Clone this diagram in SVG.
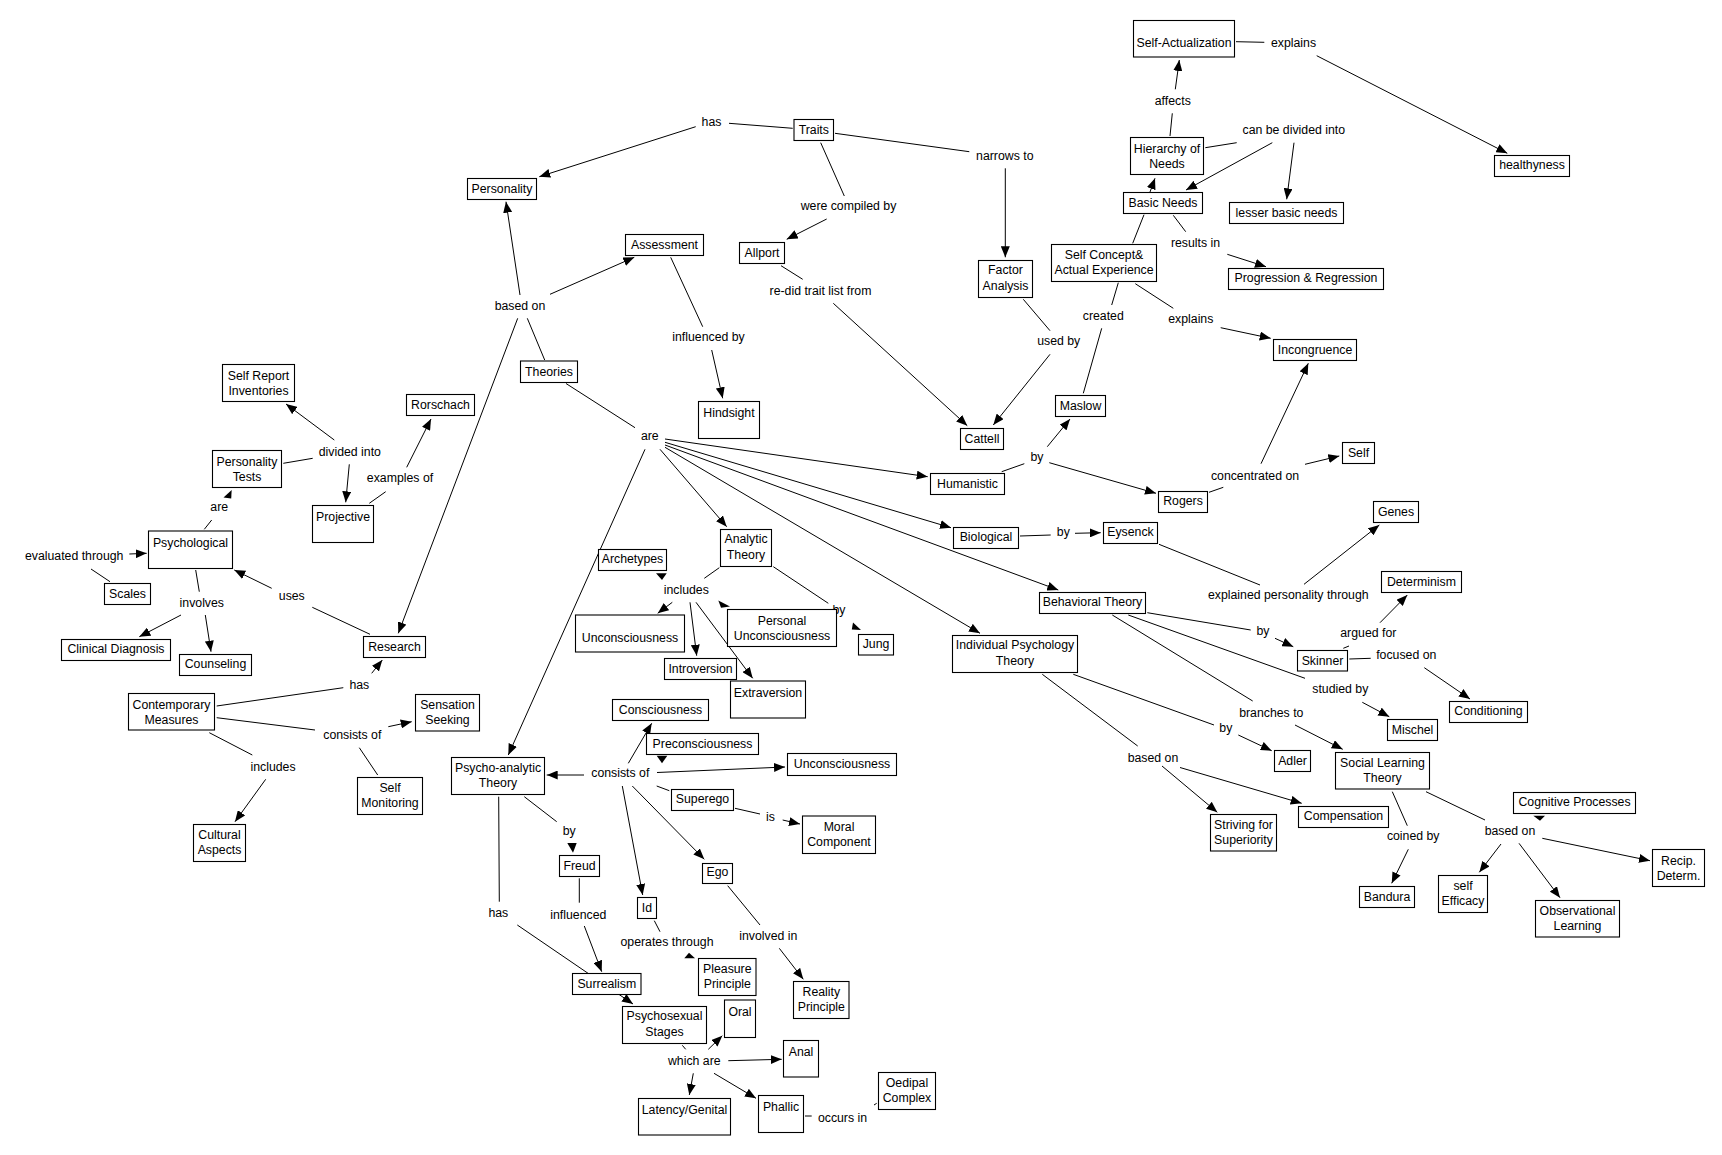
<svg xmlns="http://www.w3.org/2000/svg" width="1722" height="1155" viewBox="0 0 1722 1155">
<defs>
<style>
text{font-family:"Liberation Sans",Arial,sans-serif;font-size:12.3px;fill:#000}
.n text{text-anchor:middle}
.l text{text-anchor:middle}
.n rect{fill:#fff;stroke:#000;stroke-width:1.1}
#connectors line{stroke:#000;stroke-width:1}
#connectors line.a{marker-end:url(#ah)}
#connectors polygon{fill:#000}
</style>
<marker id="ah" viewBox="0 0 11 9" refX="11" refY="4.5" markerWidth="11" markerHeight="9" markerUnits="userSpaceOnUse" orient="auto"><path d="M0,0L11,4.5L0,9z" fill="#000"/></marker>
</defs>
<rect width="1722" height="1155" fill="#fff"/>
<g id="connectors">
<line x1="792.7" y1="128.3" x2="729" y2="123.3"/>
<line class="a" x1="695.7" y1="126.7" x2="539.3" y2="176.7"/>
<line x1="820.7" y1="142.7" x2="844.3" y2="196"/>
<line class="a" x1="826.7" y1="219" x2="786.7" y2="239.3"/>
<line x1="781" y1="265.7" x2="802.7" y2="279.3"/>
<line class="a" x1="833.3" y1="303.3" x2="967.3" y2="425.7"/>
<line x1="835" y1="133.3" x2="969.3" y2="151.7"/>
<line class="a" x1="1005.3" y1="168.3" x2="1005.3" y2="257.3"/>
<line x1="1023.3" y1="299.3" x2="1050" y2="330.7"/>
<line class="a" x1="1050" y1="354.3" x2="993.3" y2="425"/>
<line class="a" x1="520" y1="295" x2="506" y2="201.7"/>
<line class="a" x1="550" y1="294.3" x2="634.3" y2="257.3"/>
<line x1="670.7" y1="257.3" x2="702.7" y2="326.7"/>
<line class="a" x1="711.7" y1="350" x2="722.7" y2="398.3"/>
<line x1="527.3" y1="318.3" x2="544.7" y2="360"/>
<line class="a" x1="517.7" y1="318.3" x2="398.3" y2="633.3"/>
<line x1="566" y1="383.5" x2="635" y2="427.7"/>
<line class="a" x1="665" y1="439" x2="927.7" y2="476.7"/>
<line class="a" x1="665" y1="442.3" x2="951" y2="527.7"/>
<line class="a" x1="665" y1="445" x2="1058.3" y2="590"/>
<line class="a" x1="665" y1="447.3" x2="980" y2="633.3"/>
<line class="a" x1="660" y1="449.3" x2="726.7" y2="526.7"/>
<line class="a" x1="645" y1="449.3" x2="508.3" y2="755"/>
<line x1="1236" y1="41.7" x2="1264.3" y2="42.3"/>
<line class="a" x1="1316.7" y1="55.7" x2="1507.3" y2="153.3"/>
<line x1="1170" y1="136" x2="1172.3" y2="113.3"/>
<line class="a" x1="1175.3" y1="89.3" x2="1179.3" y2="60"/>
<line x1="1205.3" y1="147.7" x2="1236.7" y2="142.7"/>
<line class="a" x1="1272.3" y1="142.7" x2="1186" y2="190"/>
<line class="a" x1="1294" y1="142.7" x2="1286.7" y2="199.3"/>
<line x1="1132.7" y1="243.3" x2="1144" y2="214.7"/>
<line class="a" x1="1150" y1="192" x2="1155" y2="178.3"/>
<line x1="1173.3" y1="215.3" x2="1185.7" y2="231.7"/>
<line class="a" x1="1227.3" y1="254.3" x2="1266" y2="266.7"/>
<line x1="1118.3" y1="282.7" x2="1111.7" y2="305"/>
<line x1="1101.7" y1="328.3" x2="1083.3" y2="393.3"/>
<line x1="1135.3" y1="283.7" x2="1173.3" y2="308.3"/>
<line class="a" x1="1220.7" y1="327.7" x2="1270.7" y2="338.3"/>
<line x1="1001.7" y1="471.7" x2="1024.3" y2="463.7"/>
<line class="a" x1="1047.3" y1="446.7" x2="1070" y2="419"/>
<line class="a" x1="1049.3" y1="462.7" x2="1156" y2="493.3"/>
<line x1="1209" y1="492.3" x2="1223.3" y2="487.3"/>
<line class="a" x1="1261" y1="463.7" x2="1308.3" y2="363.3"/>
<line class="a" x1="1305" y1="464.3" x2="1339.3" y2="456"/>
<line x1="1020" y1="536" x2="1050.7" y2="535"/>
<line class="a" x1="1075" y1="533.3" x2="1100.7" y2="532.7"/>
<line x1="1159" y1="544.3" x2="1260" y2="585"/>
<line class="a" x1="1304" y1="584.3" x2="1379.3" y2="525"/>
<line x1="1147.3" y1="612.7" x2="1250.7" y2="630"/>
<line class="a" x1="1275" y1="638.3" x2="1293.3" y2="646.7"/>
<line x1="1128.3" y1="615" x2="1305" y2="678.3"/>
<line class="a" x1="1362.3" y1="702.3" x2="1389.3" y2="716.7"/>
<line x1="1343.3" y1="648.3" x2="1349" y2="646"/>
<line class="a" x1="1380" y1="622.7" x2="1407.3" y2="595"/>
<line x1="1349.3" y1="659" x2="1370.7" y2="658.3"/>
<line class="a" x1="1424.3" y1="667.7" x2="1470" y2="699"/>
<line x1="1112.3" y1="615" x2="1252.7" y2="701"/>
<line class="a" x1="1295" y1="725" x2="1342.7" y2="749.3"/>
<line x1="1073.3" y1="674.3" x2="1214" y2="725"/>
<line class="a" x1="1238.3" y1="735" x2="1271.7" y2="750.7"/>
<line x1="1042.3" y1="674.3" x2="1137.7" y2="746"/>
<line class="a" x1="1162" y1="766" x2="1217.3" y2="812.3"/>
<line class="a" x1="1180" y1="767.5" x2="1301.7" y2="803.3"/>
<line x1="1392.3" y1="791.7" x2="1407.3" y2="825.7"/>
<line class="a" x1="1408.3" y1="849.3" x2="1391.7" y2="883.3"/>
<line x1="1426" y1="791.7" x2="1485" y2="820"/>
<line class="a" x1="1501" y1="844" x2="1479.3" y2="872.3"/>
<line class="a" x1="1519" y1="843.3" x2="1560" y2="897.7"/>
<line class="a" x1="1542.3" y1="838.3" x2="1650" y2="860.7"/>
<polygon points="1533.3,815.7 1545,815.7 1540,820.7"/>
<line class="a" x1="334.3" y1="440" x2="286" y2="404"/>
<line x1="283.3" y1="463.3" x2="312.7" y2="458.3"/>
<line class="a" x1="349.3" y1="464.3" x2="345.7" y2="502.3"/>
<line x1="369.3" y1="503.3" x2="385.7" y2="491.7"/>
<line class="a" x1="406.7" y1="467.3" x2="431" y2="419"/>
<line x1="204.3" y1="529.3" x2="211.7" y2="520"/>
<polygon points="231.7,490 223.5,497.5 231.2,498.5"/>
<line class="a" x1="129.3" y1="554" x2="146.7" y2="553.3"/>
<line x1="110" y1="581.7" x2="91" y2="569"/>
<line x1="195.7" y1="570" x2="199.3" y2="591.7"/>
<line class="a" x1="181" y1="615" x2="139.3" y2="636.7"/>
<line class="a" x1="205.3" y1="615" x2="211" y2="651.7"/>
<line x1="370" y1="634.3" x2="312.3" y2="607.3"/>
<line class="a" x1="271.7" y1="588.3" x2="234.3" y2="570"/>
<line x1="216.7" y1="706" x2="343.3" y2="687.7"/>
<line class="a" x1="371.7" y1="673.3" x2="382.3" y2="660"/>
<line x1="216.7" y1="717.7" x2="315" y2="730"/>
<line class="a" x1="388.3" y1="726.7" x2="411.7" y2="721.7"/>
<line x1="359.3" y1="747.7" x2="377.7" y2="775"/>
<line x1="209.3" y1="732.7" x2="252.3" y2="755"/>
<line class="a" x1="265.7" y1="779.3" x2="235" y2="821.7"/>
<line x1="719.3" y1="567.7" x2="704.3" y2="578.3"/>
<polygon points="656,573.3 666.7,573.3 662,580"/>
<line class="a" x1="672.3" y1="602.3" x2="657.7" y2="613.3"/>
<line class="a" x1="690" y1="602.3" x2="696.7" y2="655.7"/>
<line class="a" x1="696" y1="602.3" x2="752.7" y2="678.3"/>
<polygon points="718.3,600.5 730,606.5 721,607.7"/>
<line x1="773.3" y1="566.7" x2="828.3" y2="603.3"/>
<polygon points="853,622.5 861,630 851.8,629.5"/>
<line class="a" x1="584" y1="775" x2="546.7" y2="775"/>
<line class="a" x1="628.3" y1="763.3" x2="651.7" y2="723.3"/>
<polygon points="656.7,755.7 667.3,755.7 662,763.3"/>
<line class="a" x1="657" y1="772.5" x2="785" y2="767"/>
<line x1="656.7" y1="786" x2="669.3" y2="790.7"/>
<line x1="735" y1="808.3" x2="760" y2="814"/>
<line class="a" x1="782.7" y1="820" x2="800" y2="824"/>
<line class="a" x1="632.3" y1="786" x2="704.3" y2="859.3"/>
<line class="a" x1="622.3" y1="786" x2="642.7" y2="895"/>
<line x1="654.3" y1="920.7" x2="660" y2="931.7"/>
<polygon points="684.3,958.3 689,952.7 695,958.3"/>
<line x1="727.7" y1="885.7" x2="760" y2="925"/>
<line class="a" x1="779.3" y1="948.3" x2="803.3" y2="979.3"/>
<line x1="524.3" y1="796.7" x2="556.7" y2="821.7"/>
<polygon points="567.3,843 576.7,843 573,852.7"/>
<line x1="579.3" y1="878.3" x2="579.3" y2="902.7"/>
<line class="a" x1="584.3" y1="926" x2="601.7" y2="971.7"/>
<line x1="498.7" y1="796.7" x2="499.3" y2="901.7"/>
<line class="a" x1="517.3" y1="925" x2="633" y2="1004"/>
<line x1="682.3" y1="1045.3" x2="685.7" y2="1049.3"/>
<line class="a" x1="708.3" y1="1049.3" x2="722.3" y2="1035.7"/>
<line class="a" x1="728.3" y1="1060.7" x2="781.7" y2="1059.3"/>
<line class="a" x1="693.3" y1="1073.3" x2="689.3" y2="1095"/>
<line class="a" x1="714" y1="1073.3" x2="756" y2="1098.3"/>
<line x1="805" y1="1116" x2="811.7" y2="1116"/>
<line x1="874" y1="1105" x2="876.7" y2="1103.3"/>
</g>
<g id="labels" class="l">
<text x="711.5" y="126">has</text>
<text x="848.5" y="210">were compiled by</text>
<text x="1004.8" y="160">narrows to</text>
<text x="820.5" y="295">re-did trait list from</text>
<text x="520" y="310">based on</text>
<text x="708.5" y="341">influenced by</text>
<text x="649.8" y="440">are</text>
<text x="1058.7" y="345">used by</text>
<text x="1103.3" y="320">created</text>
<text x="1190.8" y="323">explains</text>
<text x="1293.5" y="46.5">explains</text>
<text x="1172.8" y="105">affects</text>
<text x="1293.8" y="134">can be divided into</text>
<text x="1195.5" y="247">results in</text>
<text x="1037" y="461">by</text>
<text x="1255" y="479.5">concentrated on</text>
<text x="1063.3" y="536">by</text>
<text x="1288.3" y="599">explained personality through</text>
<text x="1263" y="635">by</text>
<text x="1368.3" y="637">argued for</text>
<text x="1406.3" y="659">focused on</text>
<text x="1340.3" y="693">studied by</text>
<text x="1271.3" y="717">branches to</text>
<text x="1225.8" y="732">by</text>
<text x="1153" y="762">based on</text>
<text x="1413.2" y="840">coined by</text>
<text x="1510" y="835">based on</text>
<text x="349.8" y="456">divided into</text>
<text x="400" y="482">examples of</text>
<text x="219.2" y="511">are</text>
<text x="74.2" y="560">evaluated through</text>
<text x="201.8" y="607">involves</text>
<text x="291.8" y="600">uses</text>
<text x="359.3" y="689">has</text>
<text x="352.3" y="739">consists of</text>
<text x="273" y="771">includes</text>
<text x="686.3" y="594">includes</text>
<text x="839" y="613.5">by</text>
<text x="620.3" y="777">consists of</text>
<text x="770.5" y="821">is</text>
<text x="667" y="946">operates through</text>
<text x="768.3" y="940">involved in</text>
<text x="569.2" y="834.5">by</text>
<text x="578.3" y="918.5">influenced</text>
<text x="498.3" y="917">has</text>
<text x="694.3" y="1065">which are</text>
<text x="842.5" y="1122">occurs in</text>
</g>
<g id="n-selfact" class="n"><rect x="1133.5" y="20.5" width="101" height="36.5"/><text x="1184" y="46.5">Self-Actualization</text></g>
<g id="n-healthyness" class="n"><rect x="1494.5" y="155.5" width="75" height="21"/><text x="1532" y="169">healthyness</text></g>
<g id="n-hierarchy" class="n"><rect x="1130.5" y="137.5" width="73" height="37"/><text x="1167" y="152.5">Hierarchy of</text><text x="1167" y="167.5">Needs</text></g>
<g id="n-basicneeds" class="n"><rect x="1123.5" y="192.5" width="79" height="21"/><text x="1163" y="207">Basic Needs</text></g>
<g id="n-lesser" class="n"><rect x="1229.5" y="202.5" width="114" height="21"/><text x="1286.5" y="217">lesser basic needs</text></g>
<g id="n-selfconcept" class="n"><rect x="1051.5" y="244.5" width="105" height="37"/><text x="1104" y="259">Self Concept&amp;</text><text x="1104" y="274">Actual Experience</text></g>
<g id="n-progression" class="n"><rect x="1228.5" y="268.5" width="155" height="21"/><text x="1306" y="282">Progression &amp; Regression</text></g>
<g id="n-incongruence" class="n"><rect x="1273.5" y="339.5" width="83" height="21"/><text x="1315" y="353.5">Incongruence</text></g>
<g id="n-traits" class="n"><rect x="794" y="119.5" width="39.5" height="21"/><text x="813.8" y="134">Traits</text></g>
<g id="n-personality" class="n"><rect x="467.5" y="178.5" width="69" height="21"/><text x="502" y="192.5">Personality</text></g>
<g id="n-allport" class="n"><rect x="739.5" y="242.5" width="45" height="21"/><text x="762" y="256.5">Allport</text></g>
<g id="n-factor" class="n"><rect x="978.5" y="260.5" width="54" height="37"/><text x="1005.5" y="274">Factor</text><text x="1005.5" y="290">Analysis</text></g>
<g id="n-assessment" class="n"><rect x="625.5" y="234.5" width="78" height="21"/><text x="664.5" y="249">Assessment</text></g>
<g id="n-theories" class="n"><rect x="520.5" y="361" width="57" height="21.5"/><text x="549" y="376">Theories</text></g>
<g id="n-hindsight" class="n"><rect x="698.5" y="401.5" width="61" height="37"/><text x="729" y="417">Hindsight</text></g>
<g id="n-cattell" class="n"><rect x="960.5" y="428.5" width="43" height="21"/><text x="982" y="443">Cattell</text></g>
<g id="n-maslow" class="n"><rect x="1055.5" y="395.5" width="50" height="21"/><text x="1080.5" y="410">Maslow</text></g>
<g id="n-humanistic" class="n"><rect x="930.5" y="473.5" width="74" height="21"/><text x="967.5" y="488">Humanistic</text></g>
<g id="n-rogers" class="n"><rect x="1158.5" y="491.5" width="49" height="21"/><text x="1183" y="505">Rogers</text></g>
<g id="n-self" class="n"><rect x="1342.5" y="442.5" width="32" height="21"/><text x="1358.5" y="457">Self</text></g>
<g id="n-selfreport" class="n"><rect x="222.5" y="364.5" width="72" height="37"/><text x="258.5" y="380">Self Report</text><text x="258.5" y="395">Inventories</text></g>
<g id="n-rorschach" class="n"><rect x="406.5" y="394.5" width="68" height="21"/><text x="440.5" y="409">Rorschach</text></g>
<g id="n-perstests" class="n"><rect x="212.5" y="450.5" width="69" height="37"/><text x="247" y="466">Personality</text><text x="247" y="481">Tests</text></g>
<g id="n-projective" class="n"><rect x="312.5" y="505.5" width="61" height="37"/><text x="343" y="521">Projective</text></g>
<g id="n-psychological" class="n"><rect x="148.5" y="531" width="84" height="37.5"/><text x="190.5" y="547">Psychological</text></g>
<g id="n-scales" class="n"><rect x="104.5" y="583.5" width="46" height="21"/><text x="127.5" y="598">Scales</text></g>
<g id="n-clinical" class="n"><rect x="61.5" y="639.5" width="109" height="21"/><text x="116" y="653">Clinical Diagnosis</text></g>
<g id="n-counseling" class="n"><rect x="179.5" y="654.5" width="72" height="21"/><text x="215.5" y="668">Counseling</text></g>
<g id="n-research" class="n"><rect x="363.5" y="636.5" width="62" height="21"/><text x="394.5" y="651">Research</text></g>
<g id="n-contemporary" class="n"><rect x="128.5" y="693.5" width="86" height="36.5"/><text x="171.5" y="709">Contemporary</text><text x="171.5" y="724">Measures</text></g>
<g id="n-sensation" class="n"><rect x="415.5" y="694.5" width="64" height="36.5"/><text x="447.5" y="709">Sensation</text><text x="447.5" y="724">Seeking</text></g>
<g id="n-selfmonitoring" class="n"><rect x="357.5" y="777.5" width="65" height="37"/><text x="390" y="792">Self</text><text x="390" y="807">Monitoring</text></g>
<g id="n-cultural" class="n"><rect x="193.5" y="824.5" width="52" height="37"/><text x="219.5" y="839">Cultural</text><text x="219.5" y="854">Aspects</text></g>
<g id="n-archetypes" class="n"><rect x="598.5" y="549.5" width="68" height="21"/><text x="632.5" y="563">Archetypes</text></g>
<g id="n-analytic" class="n"><rect x="720.5" y="529.5" width="51" height="37"/><text x="746" y="543">Analytic</text><text x="746" y="559">Theory</text></g>
<g id="n-uncons1" class="n"><rect x="575.5" y="615" width="109" height="37"/><text x="630" y="642">Unconsciousness</text></g>
<g id="n-personal" class="n"><rect x="727.5" y="609.5" width="109" height="37"/><text x="782" y="625">Personal</text><text x="782" y="639.5">Unconsciousness</text></g>
<g id="n-introversion" class="n"><rect x="664.5" y="658.5" width="72" height="21"/><text x="700.5" y="673">Introversion</text></g>
<g id="n-extraversion" class="n"><rect x="730.5" y="681" width="75" height="37"/><text x="768" y="697">Extraversion</text></g>
<g id="n-jung" class="n"><rect x="858.5" y="634.5" width="35" height="20.5"/><text x="876" y="648">Jung</text></g>
<g id="n-biological" class="n"><rect x="953.5" y="527.5" width="65" height="21"/><text x="986" y="541">Biological</text></g>
<g id="n-eysenck" class="n"><rect x="1103.5" y="522.5" width="54" height="21"/><text x="1130.5" y="536">Eysenck</text></g>
<g id="n-genes" class="n"><rect x="1373.5" y="501.5" width="45" height="21"/><text x="1396" y="516">Genes</text></g>
<g id="n-behavioral" class="n"><rect x="1039.5" y="592.5" width="106" height="21"/><text x="1092.5" y="606">Behavioral Theory</text></g>
<g id="n-determinism" class="n"><rect x="1381.5" y="571.5" width="80" height="21"/><text x="1421.5" y="586">Determinism</text></g>
<g id="n-skinner" class="n"><rect x="1297.5" y="650.5" width="50" height="20.5"/><text x="1322.5" y="665">Skinner</text></g>
<g id="n-conditioning" class="n"><rect x="1449.5" y="701.5" width="78" height="21"/><text x="1488.5" y="715">Conditioning</text></g>
<g id="n-mischel" class="n"><rect x="1387.5" y="719.5" width="50" height="21"/><text x="1412.5" y="734">Mischel</text></g>
<g id="n-individual" class="n"><rect x="952.5" y="635.5" width="125" height="37"/><text x="1015" y="649">Individual Psychology</text><text x="1015" y="665">Theory</text></g>
<g id="n-adler" class="n"><rect x="1274.5" y="750.5" width="36" height="21"/><text x="1292.5" y="765">Adler</text></g>
<g id="n-slt" class="n"><rect x="1335.5" y="752.5" width="94" height="36.5"/><text x="1382.5" y="767">Social Learning</text><text x="1382.5" y="782">Theory</text></g>
<g id="n-striving" class="n"><rect x="1210.5" y="814.5" width="66" height="36.5"/><text x="1243.5" y="829">Striving for</text><text x="1243.5" y="844">Superiority</text></g>
<g id="n-compensation" class="n"><rect x="1298.5" y="806.5" width="90" height="21"/><text x="1343.5" y="820">Compensation</text></g>
<g id="n-cognitive" class="n"><rect x="1513.5" y="792.5" width="122" height="21"/><text x="1574.5" y="806">Cognitive Processes</text></g>
<g id="n-bandura" class="n"><rect x="1359.5" y="886.5" width="55" height="21"/><text x="1387" y="901">Bandura</text></g>
<g id="n-selfefficacy" class="n"><rect x="1438.5" y="875.5" width="49" height="37"/><text x="1463" y="890">self</text><text x="1463" y="905">Efficacy</text></g>
<g id="n-observational" class="n"><rect x="1535.5" y="900.5" width="84" height="36.5"/><text x="1577.5" y="915">Observational</text><text x="1577.5" y="930">Learning</text></g>
<g id="n-recip" class="n"><rect x="1652.5" y="849.5" width="52" height="37"/><text x="1678.5" y="865">Recip.</text><text x="1678.5" y="880">Determ.</text></g>
<g id="n-consciousness" class="n"><rect x="612.5" y="699.5" width="96" height="21"/><text x="660.5" y="714">Consciousness</text></g>
<g id="n-precons" class="n"><rect x="646.5" y="733.5" width="112" height="21"/><text x="702.5" y="748">Preconsciousness</text></g>
<g id="n-uncons2" class="n"><rect x="787.5" y="753.5" width="109" height="22"/><text x="842" y="768">Unconsciousness</text></g>
<g id="n-psycho" class="n"><rect x="451.5" y="757.5" width="93" height="37"/><text x="498" y="772">Psycho-analytic</text><text x="498" y="787">Theory</text></g>
<g id="n-superego" class="n"><rect x="671.5" y="789.5" width="62" height="21"/><text x="702.5" y="803">Superego</text></g>
<g id="n-moral" class="n"><rect x="802.5" y="816" width="73" height="37.5"/><text x="839" y="831">Moral</text><text x="839" y="846">Component</text></g>
<g id="n-ego" class="n"><rect x="702.5" y="863.5" width="30" height="20"/><text x="717.5" y="876">Ego</text></g>
<g id="n-id" class="n"><rect x="637.5" y="897.5" width="19" height="21"/><text x="647" y="912">Id</text></g>
<g id="n-pleasure" class="n"><rect x="698.5" y="958.5" width="57.5" height="37"/><text x="727.3" y="973">Pleasure</text><text x="727.3" y="988">Principle</text></g>
<g id="n-reality" class="n"><rect x="793.5" y="981.5" width="55.5" height="37"/><text x="821.3" y="996">Reality</text><text x="821.3" y="1011">Principle</text></g>
<g id="n-freud" class="n"><rect x="559.5" y="855.5" width="40" height="21"/><text x="579.5" y="870">Freud</text></g>
<g id="n-surrealism" class="n"><rect x="572.5" y="973.5" width="68.5" height="21"/><text x="606.8" y="988">Surrealism</text></g>
<g id="n-psychosexual" class="n"><rect x="622.5" y="1006.5" width="84" height="37"/><text x="664.5" y="1020">Psychosexual</text><text x="664.5" y="1036">Stages</text></g>
<g id="n-oral" class="n"><rect x="724.5" y="1000" width="31" height="37.5"/><text x="740" y="1016">Oral</text></g>
<g id="n-anal" class="n"><rect x="783.5" y="1040.5" width="35" height="36.5"/><text x="801" y="1056">Anal</text></g>
<g id="n-latency" class="n"><rect x="638.5" y="1098.5" width="92" height="36.5"/><text x="684.5" y="1114">Latency/Genital</text></g>
<g id="n-phallic" class="n"><rect x="758.5" y="1095.5" width="45" height="37"/><text x="781" y="1111">Phallic</text></g>
<g id="n-oedipal" class="n"><rect x="878.5" y="1072.5" width="57" height="37"/><text x="907" y="1087">Oedipal</text><text x="907" y="1102">Complex</text></g>
</svg>
